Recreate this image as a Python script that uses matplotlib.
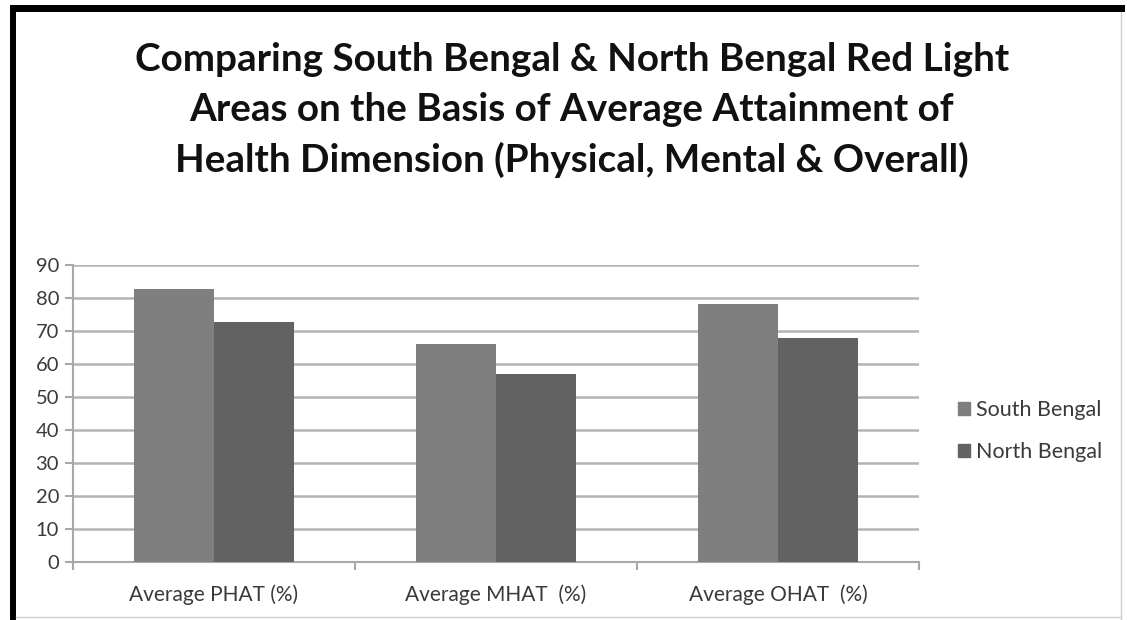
import numpy as np
import matplotlib.pyplot as plt
from matplotlib.patches import Rectangle
from matplotlib.lines import Line2D

categories = ["Average PHAT (%)", "Average MHAT  (%)", "Average OHAT  (%)"]
south_bengal = [82.6, 66.1, 78.1]
north_bengal = [72.6, 56.9, 67.9]
yticks = [0, 10, 20, 30, 40, 50, 60, 70, 80, 90]

title = ("Comparing South Bengal & North Bengal Red Light\n"
         "Areas on the Basis of Average Attainment of\n"
         "Health Dimension (Physical, Mental & Overall)")

plt.rcParams['font.family'] = ['Lato', 'DejaVu Sans']

fig = plt.figure(figsize=(11.27, 6.2), dpi=100)
ax = fig.add_axes([73/1127, 1-562/620, (919-73)/1127, (562-265)/620])

x = np.arange(len(categories))
w = 0.284
ax.bar(x - w/2, south_bengal, w, color="#7f7f7f", label="South Bengal", zorder=3)
ax.bar(x + w/2, north_bengal, w, color="#626262", label="North Bengal", zorder=3)

ax.set_xlim(-0.5, 2.5)
ax.set_ylim(0, 90)
ax.set_yticks(yticks)
ax.yaxis.grid(True, color="#b4b4b4", linewidth=1.8, zorder=0)
ax.set_axisbelow(True)

for s in ["top", "right"]:
    ax.spines[s].set_visible(False)
for s in ["left", "bottom"]:
    ax.spines[s].set_color("#a8a8a8")
    ax.spines[s].set_linewidth(1.5)

ax.set_xticks(x)
ax.set_xticklabels(categories, fontsize=15, color="#3a3a3a")
ax.tick_params(axis="x", length=0, pad=16)
ax.set_xticks([-0.5, 0.5, 1.5, 2.5], minor=True)
ax.tick_params(axis="x", which="minor", length=6, color="#a8a8a8", width=1.5, direction="out")
ax.tick_params(axis="y", length=6, color="#a8a8a8", width=1.5, labelsize=14.5,
               labelcolor="#3a3a3a", pad=4)

handles = [Rectangle((0, 0), 1, 1, color="#7f7f7f"), Rectangle((0, 0), 1, 1, color="#626262")]
leg = fig.legend(handles, ["South Bengal", "North Bengal"], loc="center left",
                 bbox_to_anchor=(958/1127, 1-431/620), frameon=False, fontsize=15.5,
                 handlelength=0.55, handleheight=0.55, handletextpad=0.3, labelspacing=1.0,
                 borderaxespad=0, borderpad=0)
for t in leg.get_texts():
    t.set_color("#3a3a3a")

fig.text(572/1127, 1-110/620, title, ha="center", va="center", fontsize=27.8,
         fontweight="bold", color="#111111", linespacing=1.5)

# outer frame
fig.add_artist(Rectangle((10/1127, 1-12/620), 1115/1127, 7/620, transform=fig.transFigure,
                         color="black", lw=0))
fig.add_artist(Rectangle((10/1127, 0), 6/1127, 1-5/620, transform=fig.transFigure,
                         color="black", lw=0))
fig.add_artist(Line2D([1121/1127, 1121/1127], [0, 1-12/620], transform=fig.transFigure,
                      color="#d0d0d0", lw=1))
fig.add_artist(Line2D([16/1127, 1121/1127], [3/620, 3/620], transform=fig.transFigure,
                      color="#d0d0d0", lw=1))

fig.savefig("out.png", dpi=100)
